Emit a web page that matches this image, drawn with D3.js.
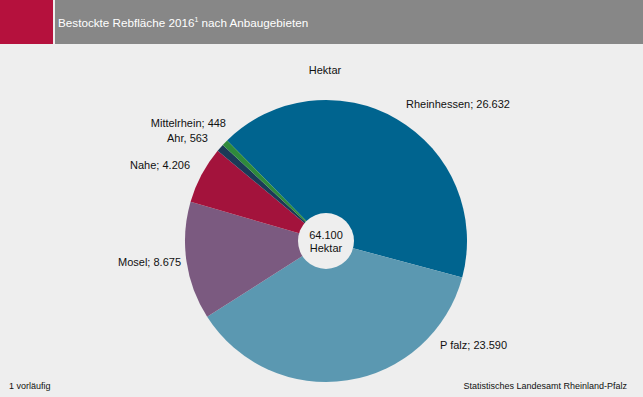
<!DOCTYPE html>
<html>
<head>
<meta charset="utf-8">
<script src="https://cdn.jsdelivr.net/npm/d3@7"></script>
<style>
  body { margin: 0; background: #eeeeee; }
  svg text { font-family: "Liberation Sans", Arial, sans-serif; }
</style>
</head>
<body>
<div id="chart"></div>
<script>
// data
var regions = ["Rheinhessen", "Pfalz", "Mosel", "Nahe", "Ahr", "Mittelrhein"];
var hectares = [26632, 23590, 8675, 4206, 563, 448];
var labels = ["Rheinhessen; 26.632", "P falz; 23.590", "Mosel; 8.675", "Nahe; 4.206", "Ahr, 563", "Mittelrhein; 448"];
var colors = ["#00648f", "#5b98b1", "#7b5a80", "#a3133c", "#1b3a57", "#2f8a3c"];
var totalText = ["64.100", "Hektar"];

var width = 643, height = 397;
var cx = 326, cy = 241, radius = 141, hole = 28;

var svg = d3.select("#chart").append("svg")
  .attr("width", width).attr("height", height);

svg.append("rect").attr("width", width).attr("height", height).attr("fill", "#eeeeee");

// header
svg.append("rect").attr("x", 0).attr("y", 0).attr("width", 53).attr("height", 44).attr("fill", "#b5113d");
svg.append("rect").attr("x", 55).attr("y", 0).attr("width", width - 55).attr("height", 44).attr("fill", "#878787");
var title = svg.append("text").attr("x", 58).attr("y", 27)
  .attr("fill", "#fff").style("font-size", "11.7px");
title.append("tspan").text("Bestockte Rebfläche 2016");
title.append("tspan").text("1").style("font-size", "7px").attr("dy", -5);
title.append("tspan").text(" nach Anbaugebieten").attr("dy", 5);

svg.append("text").attr("x", 325).attr("y", 74).attr("text-anchor", "middle")
  .style("font-size", "11px").attr("fill", "#111").text("Hektar");

// pie
var total = d3.sum(hectares);
var start = 105 * Math.PI / 180 - 2 * Math.PI * hectares[0] / total;
var pie = d3.pie().sort(null).startAngle(start).endAngle(start + 2 * Math.PI);
var arc = d3.arc().innerRadius(0).outerRadius(radius);

var g = svg.append("g").attr("transform", "translate(" + cx + "," + cy + ")");
g.selectAll("path").data(pie(hectares)).enter().append("path")
  .attr("d", arc)
  .attr("fill", function(d, i) { return colors[i]; });

g.append("circle").attr("r", hole).attr("fill", "#eeeeee");
g.selectAll(".tot").data(totalText).enter().append("text")
  .attr("text-anchor", "middle")
  .attr("y", function(d, i) { return i * 13 - 2; })
  .style("font-size", "11px").attr("fill", "#111")
  .text(function(d) { return d; });

// slice labels
var labelPos = [
  {x: 406, y: 108, anchor: "start"},
  {x: 440, y: 349, anchor: "start"},
  {x: 181, y: 266, anchor: "end"},
  {x: 190, y: 169, anchor: "end"},
  {x: 208, y: 142, anchor: "end"},
  {x: 226, y: 127, anchor: "end"}
];
svg.selectAll(".lbl").data(labels).enter().append("text")
  .attr("x", function(d, i) { return labelPos[i].x; })
  .attr("y", function(d, i) { return labelPos[i].y; })
  .attr("text-anchor", function(d, i) { return labelPos[i].anchor; })
  .style("font-size", "11px").attr("fill", "#111")
  .text(function(d) { return d; });

// footer
svg.append("text").attr("x", 9).attr("y", 389).style("font-size", "9px").attr("fill", "#111").text("1 vorläufig");
svg.append("text").attr("x", 627).attr("y", 389).attr("text-anchor", "end")
  .style("font-size", "9px").attr("fill", "#111").text("Statistisches Landesamt Rheinland-Pfalz");
</script>
</body>
</html>
